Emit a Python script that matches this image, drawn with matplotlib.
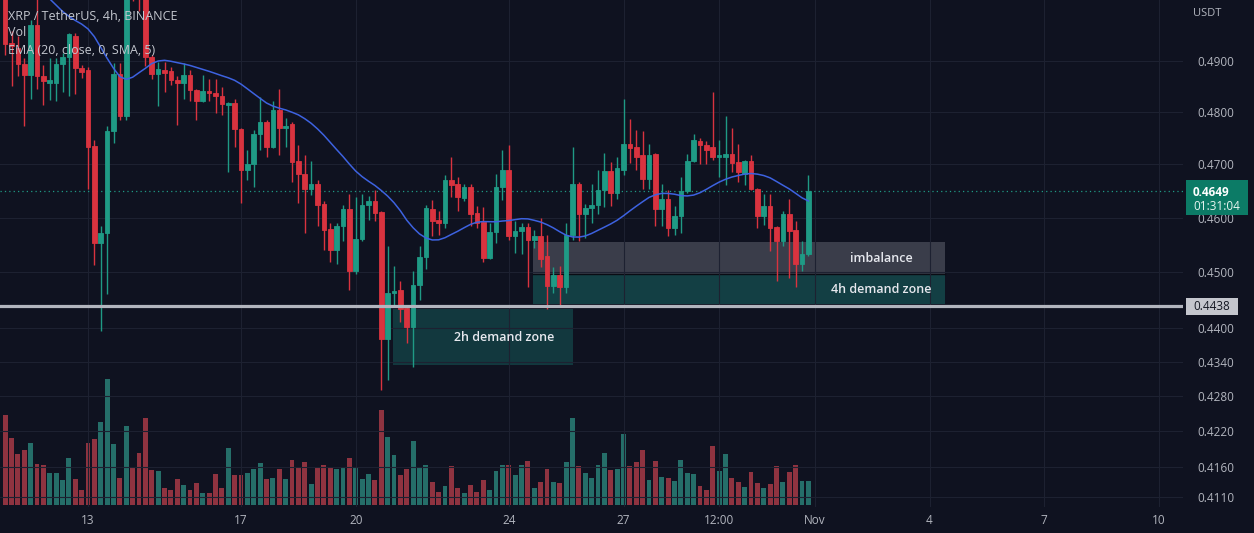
import numpy as np
import pandas as pd
import matplotlib
matplotlib.use("Agg")
import matplotlib.pyplot as plt
from matplotlib.patches import Rectangle
from matplotlib.ticker import FixedLocator, NullLocator, FuncFormatter, NullFormatter

# XRP/USDT 4h candles, index 0 = Oct 13 00:00 (first visible candle is index -13)
first_index = -13
opens = [.5030, .4936, .4926, .4895, .4873, .4972, .4870, .4857, .4857, .4895, .4908, .4949, .4887,
         .4883, .4734, .4553, .4571, .4764, .4874, .4792, .5070, .5040, .5030, .4907, .4875, .4883,
         .4881, .4862, .4856, .4872, .4843, .4821, .4841, .4838, .4832, .4813, .4817, .4768, .4689,
         .4700, .4758, .4781, .4732, .4804, .4770, .4777, .4706, .4681, .4653, .4662, .4626, .4579,
         .4541, .4585, .4615, .4502, .4560, .4624, .4630, .4611, .4380, .4462, .4468, .4436, .4402,
         .4477, .4528, .4615, .4596, .4590, .4670, .4662, .4636, .4658, .4608, .4591, .4526, .4574,
         .4657, .4690, .4566, .4575, .4583, .4558, .4566, .4530, .4475, .4494, .4473, .4568, .4662,
         .4606, .4617, .4624, .4651, .4687, .4645, .4690, .4738, .4732, .4717, .4672, .4719, .4615,
         .4634, .4581, .4602, .4649, .4707, .4745, .4736, .4732, .4713, .4713, .4719, .4705, .4681,
         .4707, .4653, .4602, .4621, .4583, .4556, .4606, .4577, .4515, .4532]
highs = [.5060, .4960, .4950, .4905, .4981, .5025, .4892, .4906, .4906, .4915, .4955, .4955, .4892,
         .4889, .4747, .4585, .4774, .4896, .4896, .5090, .5085, .5060, .5045, .4912, .4898, .4898,
         .4889, .4870, .4896, .4883, .4845, .4872, .4864, .4864, .4849, .4820, .4826, .4770, .4728,
         .4766, .4830, .4785, .4821, .4845, .4789, .4780, .4736, .4717, .4706, .4670, .4630, .4590,
         .4590, .4624, .4643, .4638, .4643, .4641, .4651, .4613, .4547, .4511, .4483, .4440, .4502,
         .4547, .4624, .4632, .4613, .4679, .4713, .4675, .4662, .4662, .4621, .4619, .4590, .4681,
         .4728, .4736, .4594, .4590, .4590, .4577, .4600, .4568, .4509, .4511, .4590, .4732, .4666,
         .4626, .4662, .4690, .4721, .4704, .4713, .4826, .4787, .4766, .4764, .4738, .4721, .4662,
         .4651, .4622, .4675, .4719, .4757, .4751, .4745, .4840, .4747, .4792, .4770, .4738, .4709,
         .4717, .4655, .4643, .4643, .4585, .4613, .4634, .4594, .4556, .4679]
lows = [.4911, .4851, .4870, .4774, .4826, .4845, .4813, .4824, .4822, .4840, .4832, .4836, .4866,
        .4653, .4512, .4395, .4460, .4741, .4785, .4785, .5020, .5000, .4890, .4864, .4811, .4840,
        .4853, .4775, .4826, .4821, .4785, .4819, .4821, .4798, .4794, .4685, .4732, .4628, .4670,
        .4657, .4728, .4713, .4730, .4717, .4732, .4666, .4628, .4572, .4642, .4585, .4540, .4519,
        .4515, .4556, .4468, .4496, .4556, .4596, .4594, .4290, .4308, .4440, .4411, .4373, .4330,
        .4449, .4506, .4566, .4568, .4581, .4638, .4613, .4630, .4585, .4581, .4519, .4524, .4553,
        .4632, .4558, .4534, .4532, .4473, .4543, .4509, .4434, .4462, .4441, .4462, .4558, .4556,
        .4562, .4590, .4607, .4619, .4622, .4634, .4679, .4702, .4690, .4653, .4653, .4585, .4585,
        .4566, .4568, .4572, .4645, .4705, .4700, .4700, .4709, .4675, .4660, .4685, .4666, .4660,
        .4651, .4581, .4587, .4538, .4483, .4547, .4490, .4472, .4502, .4530]
closes = [.4934, .4930, .4895, .4873, .4972, .4870, .4860, .4862, .4895, .4908, .4953, .4887, .4879,
          .4732, .4553, .4571, .4764, .4874, .4792, .5070, .5040, .5030, .4907, .4875, .4885, .4877,
          .4862, .4856, .4872, .4843, .4821, .4841, .4838, .4832, .4815, .4817, .4768, .4689, .4700,
          .4758, .4781, .4732, .4804, .4770, .4774, .4704, .4681, .4653, .4662, .4624, .4577, .4541,
          .4585, .4615, .4502, .4560, .4624, .4630, .4608, .4380, .4462, .4466, .4434, .4402, .4477,
          .4528, .4617, .4594, .4590, .4670, .4660, .4638, .4657, .4606, .4589, .4526, .4574, .4657,
          .4690, .4566, .4575, .4583, .4558, .4566, .4524, .4475, .4494, .4473, .4568, .4662, .4606,
          .4617, .4624, .4651, .4687, .4645, .4692, .4738, .4730, .4713, .4672, .4717, .4615, .4634,
          .4581, .4602, .4649, .4707, .4747, .4736, .4728, .4713, .4717, .4719, .4702, .4685, .4707,
          .4653, .4602, .4621, .4581, .4556, .4606, .4575, .4515, .4532, .4649]
# volume in millions of XRP
volumes = [45, 33.4, 25.5, 27.5, 30.9, 20.4, 20, 15.9, 15.9, 12.5, 23.4, 13, 7.5,
           30.9, 32.9, 41.7, 62.9, 30.5, 13.4, 39.5, 18.9, 25.9, 43.4, 17.5, 17.2, 8.4,
           7.5, 12.9, 10, 7.5, 10.9, 5.9, 5.9, 15.4, 8.7, 28.4, 15, 15, 15.9,
           17.9, 20.9, 12.9, 13.4, 18, 13, 22.5, 18.9, 21.4, 10.4, 18.4, 20, 18.9,
           17.9, 18.9, 23.4, 19.2, 12.9, 15.4, 12.5, 47.5, 33.9, 25, 15, 18, 32.2,
           18.4, 20, 11.7, 6.7, 9.5, 19.5, 8.7, 6.2, 10, 6.7, 12.5, 7.5, 17,
           20, 20, 15, 20, 22.2, 8.7, 11.5, 18, 11.7, 10.9, 21.5, 43.4, 19.5,
           16.2, 13.7, 20, 26.2, 17.5, 18, 35.4, 19.7, 21.5, 27.5, 12.5, 22.2, 13.9,
           13.4, 12, 22.5, 16.2, 15.5, 9.5, 7.5, 29.5, 17, 25.5, 13.7, 11.5, 9.2,
           16.5, 11.2, 8.7, 10.5, 19.7, 11.4, 16.5, 20, 12, 12]

ema_seed = 0.512          # EMA value carried in from before the visible range
last_price = 0.4649
countdown = "01:31:04"
level = 0.4438

price_ticks = [0.4900, 0.4800, 0.4700, 0.4600, 0.4500, 0.4400, 0.4340, 0.4280, 0.4220, 0.4160, 0.4110]
date_ticks = [0, 24, 42, 66, 84, 99, 114, 132, 150, 168]   # in 4h candles from Oct 13
date_labels = ["13", "17", "20", "24", "27", "12:00", "Nov", "4", "7", "10"]

zone_names = ["imbalance", "4h demand zone", "2h demand zone"]
zone_start = [69.8, 69.8, 47.8]
zone_end = [134.4, 134.4, 76.1]
zone_low = [0.4496, 0.4442, 0.4334]
zone_high = [0.4555, 0.4496, 0.4433]

# colours / layout
BG = "#0f1220"
GRID = "#1d2131"
TXT = "#b2b5be"
UP = "#1f9a85"
DOWN = "#d9333f"
VUP = "#256e69"
VDOWN = "#8f3340"
zone_colors = [("#787b86", 0.42), ("#1b8a80", 0.38), ("#1b8a80", 0.32)]
zone_label_x = [124.5, 124.5, 65.3]
W, H = 1254, 533

plt.rcParams["font.family"] = ["Open Sans", "DejaVu Sans"]

fig = plt.figure(figsize=(W / 100, H / 100), dpi=100, facecolor=BG)
rect = [0, 26 / H, 1183 / W, 507 / H]
axv = fig.add_axes(rect)
ax = fig.add_axes(rect)
axv.set_facecolor(BG)
ax.patch.set_alpha(0)

idx = np.arange(first_index, first_index + len(closes))
o = np.array(opens)
c = np.array(closes)
up = c >= o
xlim = (-88 / 6.375, (1183 - 88) / 6.375)

# volume pane
axv.bar(idx, volumes, width=0.78, color=np.where(up, VUP, VDOWN))
axv.set_xlim(xlim)
axv.set_ylim(-1, 252.5)
axv.axis("off")

# zones
for k in range(len(zone_names)):
    col, al = zone_colors[k]
    ax.add_patch(Rectangle((zone_start[k], zone_low[k]), zone_end[k] - zone_start[k],
                           zone_high[k] - zone_low[k], facecolor=col, alpha=al,
                           edgecolor="none", zorder=1))
ax.plot([zone_start[0], zone_end[0]], [zone_low[0]] * 2, color="#0a0c14", lw=1, zorder=1.5)

# candles
cols = np.where(up, UP, DOWN)
ax.vlines(idx, lows, highs, colors=cols, linewidth=1, zorder=3)
ax.bar(idx, np.abs(c - o), bottom=np.minimum(o, c), width=0.72, color=cols,
       edgecolor=cols, linewidth=0.6, zorder=3)

# EMA(20) smoothed by SMA(5)
ema = pd.Series([ema_seed] + closes).ewm(span=20, adjust=False).mean().iloc[1:]
ema_s = ema.rolling(5, min_periods=1).mean()
ax.plot(idx, ema_s.values, color="#3d62e0", lw=1.1, zorder=4)

ax.axhline(level, color="#b2b5be", lw=2.3, zorder=5)
ax.axhline(last_price, color=UP, lw=0.9, ls=(0, (1, 2.5)), zorder=2)

for k in range(len(zone_names)):
    ax.text(zone_label_x[k], (zone_low[k] * zone_high[k]) ** 0.5, zone_names[k],
            color="#e6e8ee", fontsize=9, fontweight="semibold", ha="center", va="center", zorder=6)

ax.set_yscale("log")
ax.set_xlim(xlim)
ax.set_ylim(0.40929, 0.50221)
ax.yaxis.set_major_locator(FixedLocator(price_ticks))
ax.yaxis.set_minor_locator(NullLocator())
ax.yaxis.set_major_formatter(FuncFormatter(lambda v, p: f"{v:.4f}"))
ax.yaxis.set_minor_formatter(NullFormatter())
ax.yaxis.tick_right()
ax.set_xticks(date_ticks, date_labels)
ax.tick_params(axis="y", length=0, pad=10, labelsize=8.5, labelcolor=TXT)
ax.tick_params(axis="x", length=0, pad=5, labelsize=8.5, labelcolor=TXT)
ax.grid(True, color=GRID, linewidth=0.8, zorder=0)
for s in ax.spines.values():
    s.set_visible(False)

# header
fig.text(8 / W, 1 - 16 / H, "XRP / TetherUS, 4h, BINANCE", color="#c3c6ce", fontsize=9, va="center")
fig.text(8 / W, 1 - 33 / H, "Vol", color="#c3c6ce", fontsize=9, va="center")
fig.text(8 / W, 1 - 50 / H, "EMA (20, close, 0, SMA, 5)", color="#c3c6ce", fontsize=9, va="center")
fig.text(1193 / W, 1 - 13 / H, "USDT", color=TXT, fontsize=8, va="center")

# price scale labels for the last price and the horizontal level
fig.canvas.draw()
def price_px(p):
    return ax.transData.transform((0, p))[1]

yp = price_px(last_price)
fig.patches.append(Rectangle((1186 / W, (yp - 24) / H), 62 / W, 35 / H, facecolor="#0c7b66",
                             edgecolor="none", transform=fig.transFigure, figure=fig, zorder=10))
fig.text(1193 / W, (yp - 1) / H, f"{last_price:.4f}", color="white", fontsize=8.5,
         fontweight="bold", va="center", zorder=11)
fig.text(1193 / W, (yp - 15) / H, countdown, color="#e8f5f1", fontsize=8.5, va="center", zorder=11)

yl = price_px(level)
fig.patches.append(Rectangle((1186 / W, (yl - 8.5) / H), 52 / W, 17 / H, facecolor="#c4c6cd",
                             edgecolor="none", transform=fig.transFigure, figure=fig, zorder=10))
fig.text(1193 / W, yl / H, f"{level:.4f}", color="#131722", fontsize=8.5, va="center", zorder=11)

fig.savefig("out.png", dpi=100, facecolor=BG)
